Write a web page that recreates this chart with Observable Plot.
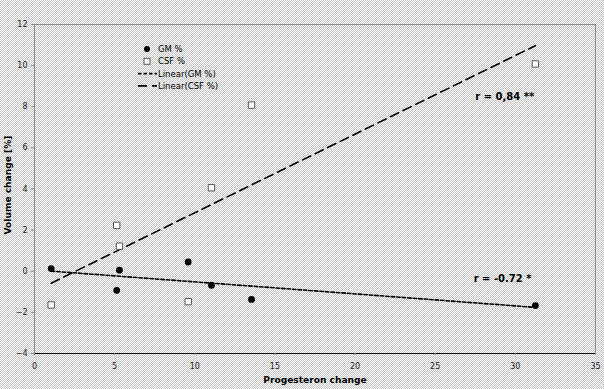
<!DOCTYPE html>
<html>
<head>
<meta charset="utf-8">
<script src="https://cdn.jsdelivr.net/npm/d3@7"></script>
<script src="https://cdn.jsdelivr.net/npm/@observablehq/plot@0.6"></script>
<style>
  html, body { margin: 0; padding: 0; }
  body {
    width: 604px; height: 389px; overflow: hidden;
    background: repeating-conic-gradient(#c4c4c4 0 25%, #ffffff 0 50%) 0 0 / 2px 2px;
  }
</style>
</head>
<body>
<div id="chart"></div>
<script>
// Data
const progesteron = [1.04, 5.13, 5.30, 9.59, 11.04, 13.54, 31.25];
const gmPct       = [0.13, -0.93, 0.05, 0.45, -0.68, -1.37, -1.67];
const csfPct      = [-1.64, 2.23, 1.22, -1.48, 4.06, 8.08, 10.08];

const xTicks = [0, 5, 10, 15, 20, 25, 30, 35];
const yTicks = [-4, -2, 0, 2, 4, 6, 8, 10, 12];

const seriesNames = ["GM %", "CSF %", "Linear(GM %)", "Linear(CSF %)"];
const annotations = [
  {x: 27.5, y: 8.49, text: "r = 0,84 **"},
  {x: 27.4, y: -0.39, text: "r = -0.72 *"}
];

const rows = progesteron.map((x, i) => ({x, gm: gmPct[i], csf: csfPct[i]}));

const chart = Plot.plot({
  width: 604,
  height: 389,
  marginLeft: 34,
  marginTop: 24,
  marginRight: 9,
  marginBottom: 36,
  style: {background: "transparent", fontFamily: "DejaVu Sans, Verdana, sans-serif", fontSize: "8px", color: "#000"},
  x: {domain: [0, 35]},
  y: {domain: [-4, 12]},
  marks: [
    Plot.frame({stroke: "#8c8c8c"}),
    Plot.ruleY([-4], {stroke: "#000"}),
    Plot.axisX({ticks: xTicks, tickSize: 2, tickPadding: 7.5, label: null, fill: "#222", stroke: "#888"}),
    Plot.axisY({ticks: yTicks, tickSize: 3, tickPadding: 4, label: null, fill: "#222", stroke: "#888"}),
    Plot.text(["Progesteron change"], {frameAnchor: "bottom", dy: 27, textAnchor: "middle", lineAnchor: "middle", fontWeight: "bold", fontSize: 9.1, fill: "#000"}),
    Plot.text(["Volume change [%]"], {frameAnchor: "left", dx: -26, dy: -4, textAnchor: "middle", lineAnchor: "middle", rotate: -90, fontWeight: "bold", fontSize: 9.1, fill: "#000"}),
    Plot.linearRegressionY(rows, {x: "x", y: "gm", ci: 0, stroke: "#000", strokeWidth: 1.6, strokeDasharray: "3.5,2"}),
    Plot.linearRegressionY(rows, {x: "x", y: "csf", ci: 0, stroke: "#000", strokeWidth: 1.6, strokeDasharray: "9,5"}),
    Plot.dot(rows, {x: "x", y: "csf", symbol: "square", r: 3.6, fill: "#fff", stroke: "#555", strokeWidth: 1}),
    Plot.dot(rows, {x: "x", y: "gm", r: 3.4, fill: "#000", stroke: "none"}),
    Plot.text(annotations, {x: "x", y: "y", text: "text", textAnchor: "start", fontWeight: "bold", fontSize: 10, fill: "#000"})
  ]
});

// Legend drawn inside the plot area
const svg = d3.select(chart);
const lg = svg.append("g")
  .attr("font-family", "DejaVu Sans, Verdana, sans-serif")
  .attr("font-size", 8.5)
  .attr("text-anchor", "start")
  .attr("transform", "translate(138,49)");
const rowH = 12.3;
seriesNames.forEach((name, i) => {
  const g = lg.append("g").attr("transform", `translate(0,${i * rowH})`);
  if (i === 0) g.append("circle").attr("cx", 9).attr("cy", 0).attr("r", 3).attr("fill", "#000");
  if (i === 1) g.append("rect").attr("x", 6).attr("y", -3).attr("width", 6).attr("height", 6).attr("fill", "#fff").attr("stroke", "#555");
  if (i === 2) g.append("line").attr("x1", 0).attr("x2", 19).attr("y1", 0).attr("y2", 0).attr("stroke", "#000").attr("stroke-width", 1.6).attr("stroke-dasharray", "3.5,2");
  if (i === 3) g.append("line").attr("x1", 0).attr("x2", 19).attr("y1", 0).attr("y2", 0).attr("stroke", "#000").attr("stroke-width", 1.6).attr("stroke-dasharray", "9,5");
  g.append("text").attr("x", 20).attr("y", 0).attr("dy", "0.35em").attr("fill", "#000").text(name);
});

document.getElementById("chart").appendChild(chart);
</script>
</body>
</html>
